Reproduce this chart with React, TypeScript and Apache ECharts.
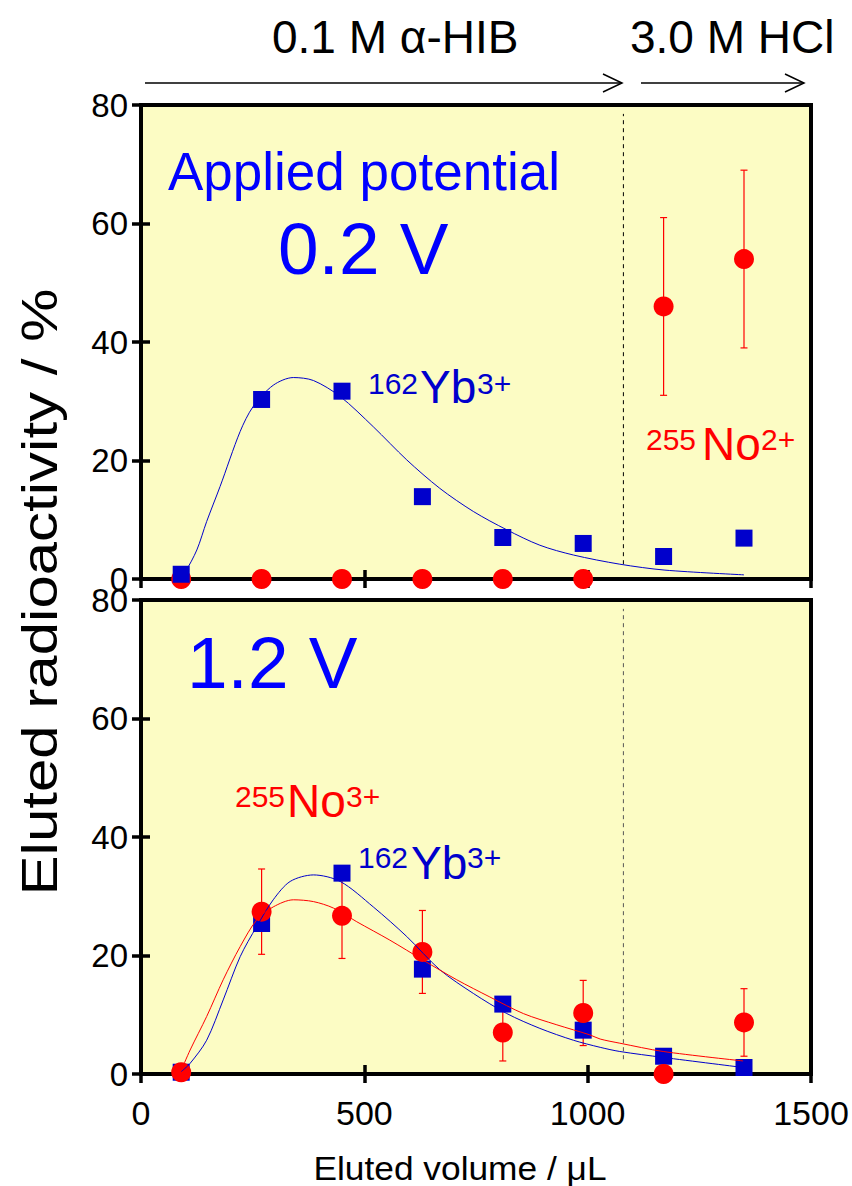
import React, { useEffect, useRef } from "react";
import * as echarts from "echarts";

// Eluted fractions (µL)
const volumes = [90, 270, 450, 630, 810, 990, 1170, 1350];

// 0.2 V panel
const ybTop = [0.8, 30.3, 31.7, 13.9, 7.0, 6.0, 3.8, 6.9];
const noTop = [0, 0, 0, 0, 0, 0, 46, 54];
const noTopErr = [0, 0, 0, 0, 0, 0, 15, 15];

// 1.2 V panel
const ybBottom = [0.3, 25.4, 33.9, 17.7, 11.8, 7.4, 3.0, 1.1];
const noBottom = [0.3, 27.4, 26.7, 20.6, 7.0, 10.3, 0, 8.7];
const noBottomErr = [0, 7.2, 7.2, 7.0, 4.8, 5.5, 0, 5.7];

// Fitted elution curves [volume, %]
const ybFitTop: [number, number][] = [
  [90, 0.7], [99, 1.2], [125, 4.9], [147, 9.7], [177, 15.6], [222, 24.9],
  [251, 29.1], [296, 32.7], [341, 34.0], [386, 33.5], [446, 30.8], [520, 25.7],
  [595, 20.1], [669, 15.3], [744, 11.4], [819, 8.3], [893, 5.7], [968, 4.05],
  [1072, 2.5], [1173, 1.5], [1350, 0.7],
];
const ybFitBottom: [number, number][] = [
  [90, 0.4], [110, 1.8], [147, 5.7], [184, 12.5], [222, 19.8], [259, 24.9],
  [296, 29.4], [334, 32.5], [386, 33.6], [446, 32.5], [520, 28.2], [595, 23.2],
  [669, 17.6], [744, 13.6], [819, 10.2], [893, 7.7], [968, 5.7], [1028, 4.5],
  [1072, 3.8], [1169, 2.8], [1348, 1.1],
];
const noFitBottom: [number, number][] = [
  [90, 0.6], [110, 4.05], [147, 9.7], [184, 15.9], [222, 21.5], [259, 26.0],
  [296, 28.2], [341, 29.4], [386, 29.1], [431, 28.0], [483, 25.7], [557, 22.6],
  [632, 19.2], [707, 15.9], [781, 13.0], [856, 10.2], [931, 8.3], [1005, 6.6],
  [1028, 5.9], [1072, 5.2], [1169, 3.8], [1348, 2.2],
];

// Eluent switch (α-HIB → HCl)
const switchVolume = 1080;
const switchSpan = [2.5, 78.5];

const FONT = "'Liberation Sans', Arial, Helvetica, sans-serif";
const BLUE = "#0000FF";
const MARK_BLUE = "#0000CC";
const RED = "#FF0000";
const PANEL_BG = "#FCFCC4";

const GRID_LEFT = 141;
const GRID_WIDTH = 670;
const GRID_HEIGHT = 474;
const TOP_GRID_TOP = 105;
const BOTTOM_GRID_TOP = 600;

function errorBarSeries(xIdx: number, yIdx: number, vals: number[], errs: number[], color: string) {
  return {
    type: "custom",
    xAxisIndex: xIdx,
    yAxisIndex: yIdx,
    silent: true,
    clip: false,
    data: volumes.map((v, i) => [v, vals[i], errs[i]]),
    renderItem: (_params: any, api: any) => {
      const x = api.value(0);
      const y = api.value(1);
      const e = api.value(2);
      if (!e) return { type: "group", children: [] };
      const hi = api.coord([x, y + e]);
      const lo = api.coord([x, y - e]);
      const cap = 3.5;
      const style = { stroke: color, lineWidth: 1.2, fill: null };
      return {
        type: "group",
        children: [
          { type: "line", shape: { x1: hi[0], y1: hi[1], x2: lo[0], y2: lo[1] }, style },
          { type: "line", shape: { x1: hi[0] - cap, y1: hi[1], x2: hi[0] + cap, y2: hi[1] }, style },
          { type: "line", shape: { x1: lo[0] - cap, y1: lo[1], x2: lo[0] + cap, y2: lo[1] }, style },
        ],
      };
    },
  };
}

function xAxisDef(gridIndex: number, position: "top" | "bottom", labels: boolean) {
  return {
    type: "value",
    gridIndex,
    position,
    min: 0,
    max: 1500,
    interval: 500,
    axisLine: { show: false },
    axisTick: { show: true, inside: true, length: 9, lineStyle: { color: "#000", width: 3.5 } },
    splitLine: { show: false },
    axisLabel: {
      show: labels,
      color: "#000",
      fontFamily: FONT,
      fontSize: 34,
      margin: 22,
      formatter: (v: number) => String(v),
    },
  };
}

function yAxisDef(gridIndex: number, position: "left" | "right", labels: boolean) {
  return {
    type: "value",
    gridIndex,
    position,
    min: 0,
    max: 80,
    interval: 20,
    axisLine: { show: false },
    axisTick: { show: true, inside: true, length: 9, lineStyle: { color: "#000", width: 3.5 } },
    splitLine: { show: false },
    axisLabel: {
      show: labels,
      color: "#000",
      fontFamily: FONT,
      fontSize: 33,
      margin: 13,
      formatter: (v: number) => String(v),
    },
  };
}

function label(text: string, x: number, y: number, size: number, color: string, extra: any = {}) {
  return {
    type: "text",
    x,
    y,
    silent: true,
    ...extra,
    style: {
      text,
      fill: color,
      fontFamily: FONT,
      fontSize: size,
      align: "left",
      verticalAlign: "middle",
      ...(extra.style || {}),
    },
  };
}

function arrow(x1: number, x2: number, y: number) {
  return [
    { type: "line", silent: true, shape: { x1, y1: y, x2, y2: y }, style: { stroke: "#000", lineWidth: 1.5 } },
    {
      type: "polyline",
      silent: true,
      shape: { points: [[x2 - 19, y - 9], [x2, y], [x2 - 19, y + 9]] },
      style: { stroke: "#000", lineWidth: 1.5, fill: null },
    },
  ];
}

export default function App() {
  const ref = useRef<HTMLDivElement>(null);

  useEffect(() => {
    if (!ref.current) return;
    const chart = echarts.init(ref.current, null, { renderer: "svg" });

    const circleStyle = { color: RED, opacity: 1 };
    const squareStyle = { color: MARK_BLUE, opacity: 1 };

    const option: any = {
      animation: false,
      backgroundColor: "#FFFFFF",
      textStyle: { fontFamily: FONT },
      grid: [
        {
          left: GRID_LEFT, top: TOP_GRID_TOP, width: GRID_WIDTH, height: GRID_HEIGHT,
          show: true, backgroundColor: PANEL_BG, borderColor: "#000", borderWidth: 4,
          outerBoundsMode: "none",
        },
        {
          left: GRID_LEFT, top: BOTTOM_GRID_TOP, width: GRID_WIDTH, height: GRID_HEIGHT,
          show: true, backgroundColor: PANEL_BG, borderColor: "#000", borderWidth: 4,
          outerBoundsMode: "none",
        },
      ],
      xAxis: [
        xAxisDef(0, "bottom", false),
        xAxisDef(0, "top", false),
        xAxisDef(1, "bottom", true),
        xAxisDef(1, "top", false),
      ],
      yAxis: [
        yAxisDef(0, "left", true),
        yAxisDef(0, "right", false),
        yAxisDef(1, "left", true),
        yAxisDef(1, "right", false),
      ],
      series: [
        // ---- 0.2 V ----
        {
          type: "line", xAxisIndex: 0, yAxisIndex: 0, silent: true, symbol: "none",
          data: [[switchVolume, switchSpan[0]], [switchVolume, switchSpan[1]]],
          lineStyle: { color: "#000", width: 1, type: [4, 4] },
        },
        {
          type: "line", xAxisIndex: 0, yAxisIndex: 0, silent: true, symbol: "none",
          smooth: 0.3, data: ybFitTop, lineStyle: { color: MARK_BLUE, width: 1 },
        },
        errorBarSeries(0, 0, noTop, noTopErr, RED),
        {
          type: "scatter", xAxisIndex: 0, yAxisIndex: 0, silent: true, clip: false,
          symbol: "circle", symbolSize: 20, itemStyle: circleStyle,
          data: volumes.map((v, i) => [v, noTop[i]]),
        },
        {
          type: "scatter", xAxisIndex: 0, yAxisIndex: 0, silent: true, clip: false,
          symbol: "rect", symbolSize: 17, itemStyle: squareStyle,
          data: volumes.map((v, i) => [v, ybTop[i]]),
        },
        // ---- 1.2 V ----
        {
          type: "line", xAxisIndex: 2, yAxisIndex: 2, silent: true, symbol: "none",
          data: [[switchVolume, switchSpan[0]], [switchVolume, switchSpan[1]]],
          lineStyle: { color: "#555", width: 1, type: [4, 4] },
        },
        {
          type: "line", xAxisIndex: 2, yAxisIndex: 2, silent: true, symbol: "none",
          smooth: 0.3, data: ybFitBottom, lineStyle: { color: MARK_BLUE, width: 1 },
        },
        {
          type: "line", xAxisIndex: 2, yAxisIndex: 2, silent: true, symbol: "none",
          smooth: 0.3, data: noFitBottom, lineStyle: { color: RED, width: 1 },
        },
        errorBarSeries(2, 2, noBottom, noBottomErr, RED),
        {
          type: "scatter", xAxisIndex: 2, yAxisIndex: 2, silent: true, clip: false,
          symbol: "rect", symbolSize: 17, itemStyle: squareStyle,
          data: volumes.map((v, i) => [v, ybBottom[i]]),
        },
        {
          type: "scatter", xAxisIndex: 2, yAxisIndex: 2, silent: true, clip: false,
          symbol: "circle", symbolSize: 20, itemStyle: circleStyle,
          data: volumes.map((v, i) => [v, noBottom[i]]),
        },
      ],
      graphic: [
        // eluent headers
        label("0.1 M \u03B1-HIB", 272, 37, 46, "#000"),
        label("3.0 M HCl", 630, 37, 46, "#000"),
        ...arrow(145, 622, 83),
        ...arrow(641, 804, 83),
        // axis titles
        {
          type: "text", silent: true, x: 40, y: 592, rotation: Math.PI / 2, scaleX: 1.2,
          style: {
            text: "Eluted radioactivity / %", fill: "#000", fontFamily: FONT, fontSize: 50,
            align: "center", verticalAlign: "middle",
          },
        },
        {
          type: "text", silent: true, x: 460, y: 1168, scaleX: 1.07,
          style: {
            text: "Eluted volume / \u03BCL", fill: "#000", fontFamily: FONT, fontSize: 33,
            align: "center", verticalAlign: "middle",
          },
        },
        // 0.2 V panel annotations
        label("Applied potential", 168, 171, 53, BLUE),
        label("0.2 V", 278, 248, 73, BLUE),
        label("162", 368, 383, 30, MARK_BLUE),
        label("Yb", 420, 387, 46, MARK_BLUE),
        label("3+", 477, 383, 30, MARK_BLUE),
        label("255", 646, 439, 30, RED),
        label("No", 702, 443.5, 46, RED),
        label("2+", 761, 439, 30, RED),
        // 1.2 V panel annotations
        label("1.2 V", 187, 662.5, 73, BLUE),
        label("255", 235, 796, 30, RED),
        label("No", 287, 801, 46, RED),
        label("3+", 346, 796, 30, RED),
        label("162", 358, 857, 30, MARK_BLUE),
        label("Yb", 411, 863, 46, MARK_BLUE),
        label("3+", 467, 857, 30, MARK_BLUE),
      ],
    };

    chart.setOption(option);
    return () => chart.dispose();
  }, []);

  return (
    <div
      ref={ref}
      style={{ position: "absolute", left: 0, top: 0, width: 852, height: 1186 }}
    />
  );
}
